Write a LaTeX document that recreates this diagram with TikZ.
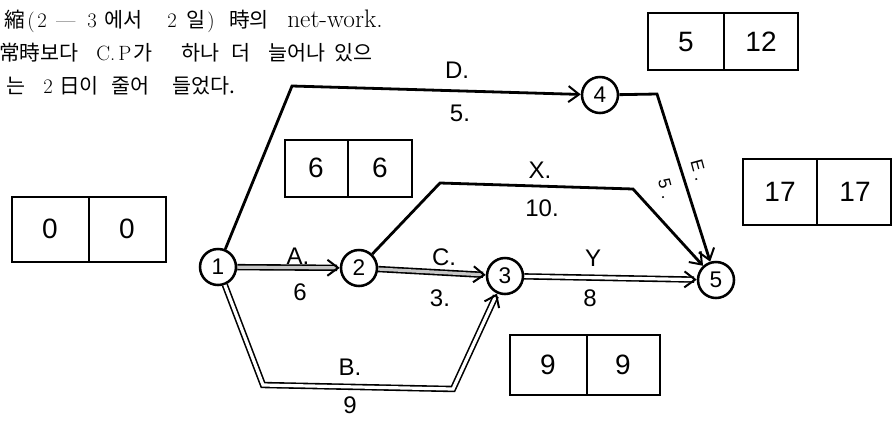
\documentclass[tikz,border=0pt]{standalone}
\usepackage{fontspec}
\newfontfamily\kr{Noto Sans CJK KR}
\newfontfamily\hand{Liberation Sans}
\usetikzlibrary{arrows.meta}
\tikzset{
  nd/.style={circle, draw, line width=1.9pt, minimum size=27pt, inner sep=0pt, font=\hand\fontsize{17}{17}\selectfont},
  tip/.style={-{Straight Barb[length=8pt,width=12pt,line width=1.5pt]}},
  crit/.style={line width=1.2pt, double=gray!45, double distance=2.4pt, tip},
  critw/.style={line width=1.2pt, double=white, double distance=2.4pt, tip},
  plain/.style={line width=2.1pt, tip},
  box/.style={line width=2pt},
  lbl/.style={font=\hand\fontsize{18}{18}\selectfont, inner sep=1pt},
  slbl/.style={font=\hand\fontsize{13}{13}\selectfont, inner sep=0pt, rotate=-75},
  bx/.style={font=\hand\fontsize{21}{21}\selectfont, inner sep=1pt},
  kt/.style={anchor=base west, inner sep=0pt, font=\kr\fontsize{15.5}{16}\selectfont},
  lt/.style={anchor=base west, inner sep=0pt, font=\fontsize{15.5}{16}\selectfont},
  bt/.style={anchor=base west, inner sep=0pt, font=\fontsize{19}{19}\selectfont}
}
\begin{document}
\begin{tikzpicture}[x=0.75pt,y=-0.75pt]
\useasboundingbox (0,0) rectangle (893,422);
% heading text, line 1
\node[kt] (a1) at (4,27.5) {縮};
\node[lt] (a2) at (27,27.5) {(};
\node[lt] (a3) at (37,27.5) {2};
\node[lt] (a4) at (56,27.5) {---};
\node[lt] (a5) at (87,27.5) {3};
\node[kt] (a6) at (104,27.5) {에서};
\node[lt] (a7) at (167,27.5) {2};
\node[kt] (a8) at (186,27.5) {일};
\node[lt] (a9) at (207,27.5) {)};
\node[kt] (a10) at (229,27.5) {時의};
\node[bt] (a11) at (287,27.5) {net-work.};
% line 2
\node[kt] (b1) at (-1,60.5) {常時보다};
\node[lt] (b2) at (96,60.5) {C.};
\node[lt] (b3) at (118,60.5) {P};
\node[kt] (b4) at (133,60.5) {가};
\node[kt] (b5) at (181,60.5) {하나};
\node[kt] (b6) at (231,60.5) {더};
\node[kt] (b7) at (268,60.5) {늘어나};
\node[kt] (b8) at (334,60.5) {있으};
% line 3
\node[kt] (c1) at (6,93.5) {는};
\node[lt] (c2) at (43,93.5) {2};
\node[kt] (c3) at (59,93.5) {日이};
\node[kt] (c4) at (111,93.5) {줄어};
\node[kt] (c5) at (172,93.5) {들었다.};
% nodes
\node[nd] (n1) at (218,267) {1};
\node[nd] (n2) at (359,268) {2};
\node[nd] (n3) at (505,276) {3};
\node[nd] (n4) at (600,95) {4};
\node[nd] (n5) at (716,280) {5};
% bend points
\coordinate (b1p) at (263,385);
\coordinate (b2p) at (453,389);
\coordinate (d1) at (292,86);
\coordinate (e1) at (657,94);
\coordinate (x1) at (440,183);
\coordinate (x2) at (633,189);
% edges
\draw[crit] (n1) -- (n2);
\draw[crit] (n2) -- (n3);
\draw[critw] (n3) -- (n5);
\draw[critw] (n1) -- (b1p) -- (b2p) -- (n3);
\draw[plain] (n1) -- (d1) -- (n4);
\draw[plain] (n4) -- (e1) -- (n5);
\draw[plain] (n2) -- (x1) -- (x2) -- (n5);
% edge labels
\node[lbl] (la) at (298,256) {A.};
\node[lbl] (la2) at (300,292) {6};
\node[lbl] (lc) at (444,257) {C.};
\node[lbl] (lc2) at (440,298) {3.};
\node[lbl] (ly) at (593,258) {Y};
\node[lbl] (ly2) at (590,298) {8};
\node[lbl] (lx) at (540,170) {X.};
\node[lbl] (lx2) at (542,208) {10.};
\node[lbl] (ld) at (457,70) {D.};
\node[lbl] (ld2) at (460,113) {5.};
\node[lbl] (lb) at (350,367) {B.};
\node[lbl] (lb2) at (350,405) {9};
\node[slbl] (le2) at (666,189) {5\hspace{4pt}.};
\node[slbl] (le) at (699,170) {E\hspace{4pt}.};
% boxes
\draw[box] (12,197) rectangle (166,262); \draw[box] (89,197) -- (89,262);
\node[bx] (k0a) at (50,229) {0}; \node[bx] (k0b) at (127,229) {0};
\draw[box] (285,140) rectangle (412,197); \draw[box] (348,140) -- (348,197);
\node[bx] (k6a) at (316,168) {6}; \node[bx] (k6b) at (380,168) {6};
\draw[box] (648,13) rectangle (798,70); \draw[box] (724,13) -- (724,70);
\node[bx] (k5a) at (686,42) {5}; \node[bx] (k5b) at (761,42) {12};
\draw[box] (743,159) rectangle (891,225); \draw[box] (817,159) -- (817,225);
\node[bx] (k17a) at (780,192) {17}; \node[bx] (k17b) at (855,192) {17};
\draw[box] (510,335) rectangle (660,395); \draw[box] (587,335) -- (587,395);
\node[bx] (k9a) at (548,365) {9}; \node[bx] (k9b) at (623,365) {9};
\end{tikzpicture}
\end{document}
